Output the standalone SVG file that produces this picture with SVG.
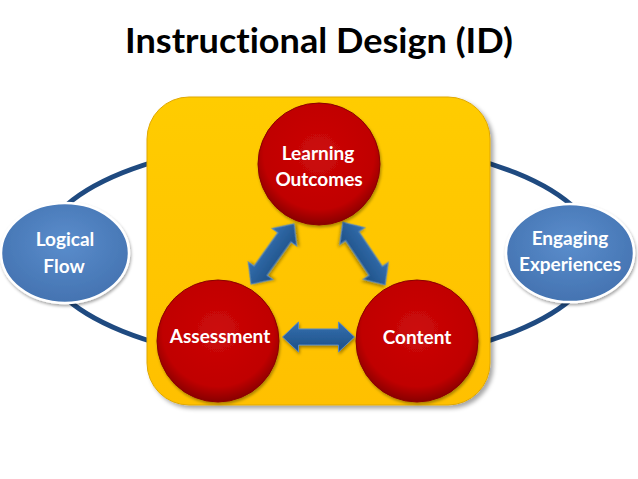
<svg xmlns="http://www.w3.org/2000/svg" width="638" height="479" viewBox="0 0 638 479">
<defs>
<style>
.t{font-family:Lato,"Open Sans","Liberation Sans",sans-serif;font-weight:bold;fill:#fff;text-anchor:middle;font-size:19px;font-variant-ligatures:none}
.title{font-family:Lato,"Open Sans","Liberation Sans",sans-serif;font-weight:bold;fill:#000;text-anchor:middle;font-size:34px;font-variant-ligatures:none}
.ring{fill:none;stroke:#1f4a80;stroke-width:5}
.red{fill:url(#rg);stroke:#8a0505;stroke-width:1}
.blue{fill:url(#bg);stroke:#fff;stroke-width:2.5}
.arr{fill:url(#ag);stroke:#5b8ac0;stroke-width:1}
</style>
<radialGradient id="rg" cx="0.5" cy="0.42" r="0.58">
<stop offset="0" stop-color="#cc0a0a"/>
<stop offset="0.78" stop-color="#c00000"/>
<stop offset="1" stop-color="#880000"/>
</radialGradient>
<radialGradient id="bg" cx="0.5" cy="0.4" r="0.6">
<stop offset="0" stop-color="#5a8dcc"/>
<stop offset="1" stop-color="#4473b1"/>
</radialGradient>
<linearGradient id="yg" x1="0" y1="0" x2="0" y2="1">
<stop offset="0" stop-color="#ffcc00"/>
<stop offset="1" stop-color="#ffc000"/>
</linearGradient>
<linearGradient id="ag" x1="0" y1="0" x2="0" y2="1">
<stop offset="0" stop-color="#3470b0"/>
<stop offset="1" stop-color="#1e4f85"/>
</linearGradient>
<filter id="sh" x="-10%" y="-10%" width="130%" height="130%">
<feDropShadow dx="3" dy="3" stdDeviation="2" flood-color="#000" flood-opacity="0.35"/>
</filter>
<filter id="sh2" x="-10%" y="-10%" width="130%" height="130%">
<feDropShadow dx="1" dy="2" stdDeviation="1.5" flood-color="#000" flood-opacity="0.35"/>
</filter>
<path id="dbl" d="M-36,0 L-20,-15 L-20,-8 L20,-8 L20,-15 L36,0 L20,15 L20,8 L-20,8 L-20,15 Z"/>
</defs>
<rect width="638" height="479" fill="#fff"/>
<text class="title" x="319" y="53" textLength="388" lengthAdjust="spacingAndGlyphs">Instructional Design (ID)</text>

<g id="connectors">
<ellipse class="ring" cx="319" cy="252" rx="278" ry="112"/>
</g>

<g id="frame">
<rect x="147" y="97" width="343" height="308" rx="42" ry="42" fill="url(#yg)" stroke="#e0a800" stroke-width="1" filter="url(#sh)"/>
</g>

<g id="arrows">
<use href="#dbl" class="arr" transform="translate(272.5,254) rotate(-54.5) scale(1.03,1)" filter="url(#sh2)"/>
<use href="#dbl" class="arr" transform="translate(364,253.5) rotate(56) scale(1.05,1)" filter="url(#sh2)"/>
<use href="#dbl" class="arr" transform="translate(318.5,337)" filter="url(#sh2)"/>
</g>

<g id="learning-outcomes">
<circle class="red" cx="319" cy="164" r="61" filter="url(#sh2)"/>
<text class="t" x="318" y="160">Learning</text>
<text class="t" x="319" y="186">Outcomes</text>
</g>

<g id="assessment">
<circle class="red" cx="218" cy="341" r="61" filter="url(#sh2)"/>
<text class="t" x="220" y="343">Assessment</text>
</g>

<g id="content">
<circle class="red" cx="417" cy="341" r="61" filter="url(#sh2)"/>
<text class="t" x="417" y="344">Content</text>
</g>

<g id="logical-flow">
<ellipse class="blue" cx="65" cy="253" rx="64" ry="50" filter="url(#sh2)"/>
<text class="t" x="65" y="246">Logical</text>
<text class="t" x="64" y="273">Flow</text>
</g>

<g id="engaging-experiences">
<ellipse class="blue" cx="570" cy="253" rx="64" ry="49" filter="url(#sh2)"/>
<text class="t" x="570" y="245">Engaging</text>
<text class="t" x="570" y="271">Experiences</text>
</g>
</svg>
